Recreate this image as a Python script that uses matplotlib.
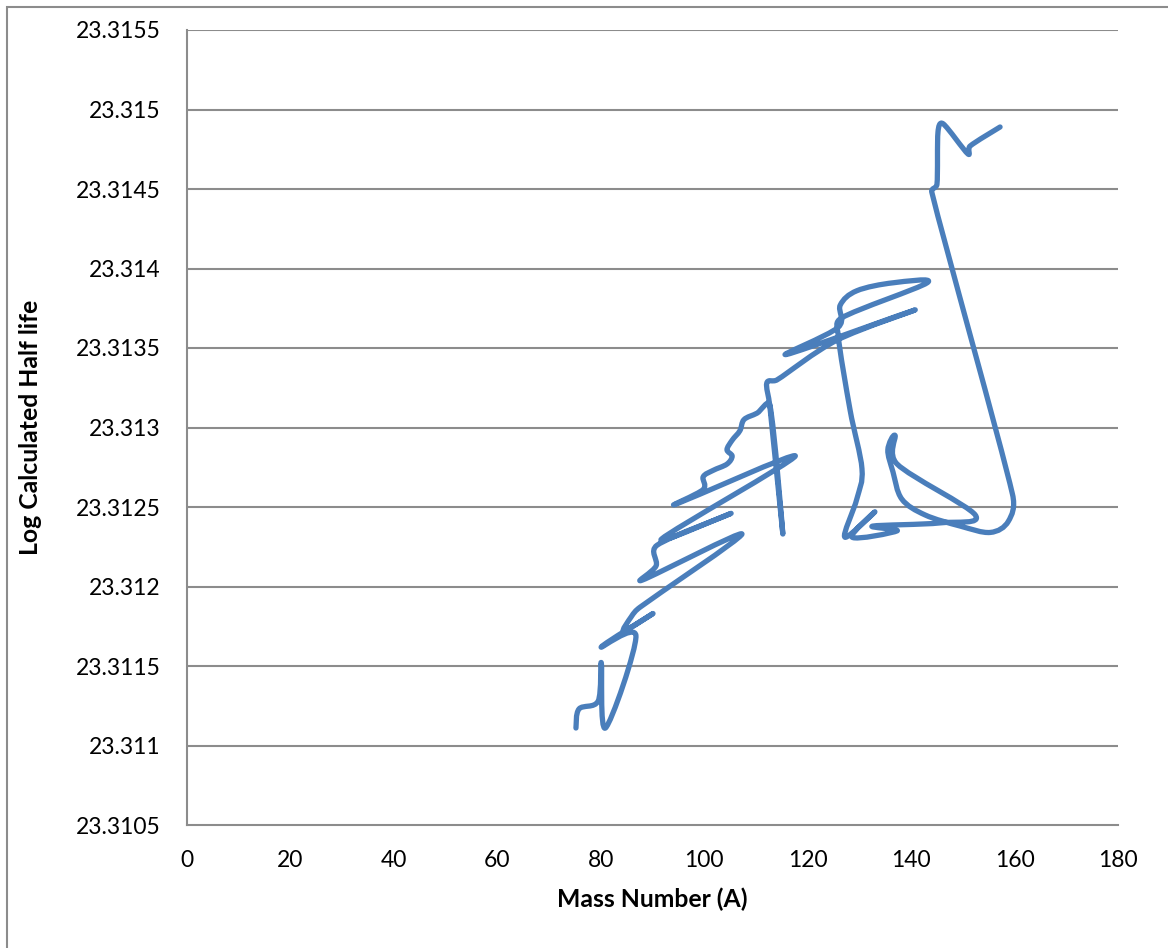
import numpy as np
import matplotlib
matplotlib.use("Agg")
import matplotlib.pyplot as plt
from matplotlib.path import Path
from matplotlib.patches import PathPatch, Rectangle

plt.rcParams['font.family'] = ['Lato', 'DejaVu Sans']

# mass number and log calculated half-life, in the order they were plotted
mass_number = [75.2, 75.8, 79.5, 80.1, 80.9, 86.8, 80.1, 90.1, 84.5, 85.9,
               87.6, 107.3, 88.0, 90.7, 90.9, 105.2, 91.8, 117.6, 94.7, 99.8,
               99.8, 101.7, 104.4, 105.4, 104.4, 105.4, 106.9, 107.7, 110.2, 112.7,
               115.2, 112.7, 112.1, 114.1, 125.7, 140.8, 116.0, 125.9, 126.3, 129.5,
               136.5, 143.1, 126.6, 125.9, 128.2, 130.5, 129.5, 127.2, 133.0, 128.6,
               137.3, 132.6, 145.6, 152.4, 137.3, 136.9, 135.5, 136.5, 138.2, 142.7,
               149.5, 155.3, 158.8, 159.6, 144.0, 145.0, 145.2, 146.2, 151.0, 151.4,
               157.2]
log_half_life = [23.31111, 23.31123, 23.31128, 23.31152, 23.31111, 23.31169, 23.31162, 23.31183, 23.31172, 23.31181,
                 23.31187, 23.31233, 23.31204, 23.31213, 23.31226, 23.31246, 23.31230, 23.31282, 23.31252, 23.31261,
                 23.31269, 23.31273, 23.31277, 23.31282, 23.31286, 23.31292, 23.31298, 23.31305, 23.31309, 23.31314,
                 23.31233, 23.31313, 23.31328, 23.31330, 23.31355, 23.31374, 23.31346, 23.31363, 23.31377, 23.31386,
                 23.31391, 23.31391, 23.31369, 23.31358, 23.31311, 23.31274, 23.31255, 23.31231, 23.31247, 23.31231,
                 23.31235, 23.31238, 23.31240, 23.31245, 23.31277, 23.31295, 23.31286, 23.31272, 23.31255, 23.31245,
                 23.31238, 23.31234, 23.31241, 23.31258, 23.31448, 23.31453, 23.31486, 23.31491, 23.31472, 23.31477,
                 23.31489]

x_ticks = np.arange(0, 181, 20)
y_ticks = [23.3105, 23.311, 23.3115, 23.312, 23.3125, 23.313,
           23.3135, 23.314, 23.3145, 23.315, 23.3155]
y_tick_labels = ['23.3105', '23.311', '23.3115', '23.312', '23.3125', '23.313',
                 '23.3135', '23.314', '23.3145', '23.315', '23.3155']

LINE_BLUE = '#4A7EBB'
GRID_GRAY = '#8C8C8C'

XLIM = (0, 180)
YLIM = (23.3105, 23.3155)
AX_W, AX_H = 931, 795  # axes size in pixels


def smooth_path(xs, ys):
    # smoothed line: cubic bezier through every point (catmull-rom handles),
    # handles capped at half the on-screen segment length to avoid big hooks
    sx = AX_W / (XLIM[1] - XLIM[0])
    sy = AX_H / (YLIM[1] - YLIM[0])
    pts = np.column_stack([np.asarray(xs) * sx, (np.asarray(ys) - YLIM[0]) * sy])
    n = len(pts)

    def capped(v, limit):
        d = np.hypot(*v)
        return v * (limit / d) if d > limit else v

    verts = [pts[0]]
    codes = [Path.MOVETO]
    for i in range(n - 1):
        p0 = pts[i - 1] if i > 0 else pts[i]
        p1 = pts[i]
        p2 = pts[i + 1]
        p3 = pts[i + 2] if i + 2 < n else pts[i + 1]
        seg = np.hypot(*(p2 - p1))
        c1 = p1 + capped((p2 - p0) / 6.0, seg * 0.5)
        c2 = p2 - capped((p3 - p1) / 6.0, seg * 0.5)
        verts += [c1, c2, p2]
        codes += [Path.CURVE4] * 3
    verts = np.array(verts)
    verts[:, 0] = verts[:, 0] / sx
    verts[:, 1] = verts[:, 1] / sy + YLIM[0]
    return Path(verts, codes)


fig = plt.figure(figsize=(11.68, 9.48), dpi=100)
ax = fig.add_axes([187 / 1168, 1 - 825 / 948, AX_W / 1168, AX_H / 948])

ax.set_xlim(*XLIM)
ax.set_ylim(*YLIM)
ax.set_xticks(x_ticks)
ax.set_yticks(y_ticks)
ax.set_yticklabels(y_tick_labels)
ax.tick_params(length=0, labelsize=16.5, colors='black')
ax.tick_params(axis='x', pad=18)
ax.tick_params(axis='y', pad=19)

for y in y_ticks[1:]:
    ax.axhline(y, color=GRID_GRAY, lw=1.5, zorder=1)

for side in ['top', 'right']:
    ax.spines[side].set_visible(False)
for side in ['left', 'bottom']:
    ax.spines[side].set_color(GRID_GRAY)
    ax.spines[side].set_linewidth(1.5)

patch = PathPatch(smooth_path(mass_number, log_half_life), facecolor='none',
                  edgecolor=LINE_BLUE, lw=3.8, capstyle='round', joinstyle='round', zorder=3)
ax.add_patch(patch)

ax.set_xlabel('Mass Number (A)', fontsize=17.8, fontweight='bold', labelpad=12)
ax.set_ylabel('Log Calculated Half life', fontsize=17.8, fontweight='bold', labelpad=24)

# outer chart frame
fig.patches.append(Rectangle((7 / 1168, -0.5), 2, 1.5 - 7 / 948, transform=fig.transFigure,
                             facecolor='none', edgecolor='#8C8C8C', lw=1.5))

fig.savefig('out.png', dpi=100)
